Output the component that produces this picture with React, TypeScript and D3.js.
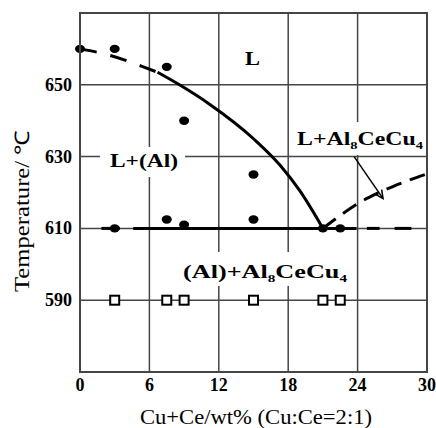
import React from "react";
import * as d3 from "d3";

const xTicks = [0, 6, 12, 18, 24, 30];
const yTicks = [590, 610, 630, 650];
const gridX = [6, 12, 18, 24];
const gridY = [590, 610, 630, 650];

const dotX = [0, 3, 7.5, 9, 15, 7.5, 9, 15, 3, 21, 22.5];
const dotT = [660, 660, 655, 640, 625, 612.5, 611, 612.5, 610, 610, 610];
const squareX = [3, 7.5, 9, 15, 21, 22.5];
const squareT = [590, 590, 590, 590, 590, 590];

const liquidusDashed: [number, number][] = [[0, 660], [2.7, 658.1], [5.3, 655.2], [6.7, 653.5]];
const liquidusSolid: [number, number][] = [[6.7, 653.5], [8.6, 650], [11.2, 644.6], [15.1, 634.7], [17.3, 627.6], [19, 620.5], [21, 610]];
const solvusDashed: [number, number][] = [[21, 610], [22.5, 613.6], [24, 616.9], [25.6, 619.6], [27, 621.6], [30, 625.2]];
const eutecticSegments: [number, number][] = [[1.85, 3.45], [4.6, 23.9], [24.8, 25.9], [27.2, 28.65]];
const eutecticT = 610;
const arrowFrom: [number, number] = [23.7, 630];
const arrowTo: [number, number] = [26.2, 618.3];

const W = 436, H = 428;
const x = d3.scaleLinear().domain([0, 30]).range([80, 427]);
const y = d3.scaleLinear().domain([570, 670]).range([372, 13]);

const serif = "'Liberation Serif', 'Times New Roman', serif";
const grid = "#454545";

export default function App() {
  const line = d3.line<[number, number]>().x(d => x(d[0])).y(d => y(d[1])).curve(d3.curveMonotoneX);
  const ax = x(arrowFrom[0]), ay = y(arrowFrom[1]);
  const bx = x(arrowTo[0]), by = y(arrowTo[1]);
  const ang = Math.atan2(by - ay, bx - ax);
  const ah = 9, aw = 0.45;
  const p1 = [bx - ah * Math.cos(ang - aw), by - ah * Math.sin(ang - aw)];
  const p2 = [bx - ah * Math.cos(ang + aw), by - ah * Math.sin(ang + aw)];
  const sub = { fontSize: 11 };
  return (
    <svg width={W} height={H} style={{ position: "absolute", left: 0, top: 0, background: "#fff" }} fontFamily={serif}>
      <rect x={0} y={0} width={W} height={H} fill="#fff" />
      {gridX.map(v => (
        <line key={"gx" + v} x1={x(v)} x2={x(v)} y1={y(670)} y2={y(570)} stroke={grid} strokeWidth={1.5} />
      ))}
      {gridY.map(v => (
        <line key={"gy" + v} x1={x(0)} x2={x(30)} y1={y(v)} y2={y(v)} stroke={grid} strokeWidth={1.5} />
      ))}
      {/* label backgrounds */}
      <rect x={100} y={147} width={85} height={30} fill="#fff" />
      <rect x={292} y={122} width={134} height={33} fill="#fff" />
      <rect x={178} y={252} width={174} height={34} fill="#fff" />

      <path d={line(liquidusDashed) || ""} fill="none" stroke="#000" strokeWidth={3} strokeDasharray="17,14" />
      <path d={line(liquidusSolid) || ""} fill="none" stroke="#000" strokeWidth={3} />
      <path d={line(solvusDashed) || ""} fill="none" stroke="#000" strokeWidth={3} strokeDasharray="16,9" />
      {eutecticSegments.map((s, i) => (
        <line key={"e" + i} x1={x(s[0])} x2={x(s[1])} y1={y(eutecticT)} y2={y(eutecticT)} stroke="#000" strokeWidth={3} />
      ))}
      <line x1={ax} y1={ay} x2={bx} y2={by} stroke="#000" strokeWidth={1.5} />
      <path d={`M${p1[0]},${p1[1]} L${bx},${by} L${p2[0]},${p2[1]}`} fill="none" stroke="#000" strokeWidth={1.5} />

      {dotX.map((v, i) => (
        <ellipse key={"d" + i} cx={x(v)} cy={y(dotT[i])} rx={5} ry={4.2} fill="#000" />
      ))}
      {squareX.map((v, i) => (
        <rect key={"s" + i} x={x(v) - 4.5} y={y(squareT[i]) - 4.5} width={9} height={9} fill="#fff" stroke="#000" strokeWidth={2} />
      ))}

      <rect x={x(0)} y={y(670)} width={x(30) - x(0)} height={y(570) - y(670)} fill="none" stroke={grid} strokeWidth={2} />

      {yTicks.map(v => (
        <text key={"yt" + v} x={72} y={y(v) + 6} textAnchor="end" fontSize={18} fontWeight="bold">{v}</text>
      ))}
      {xTicks.map(v => (
        <text key={"xt" + v} x={x(v)} y={391} textAnchor="middle" fontSize={18} fontWeight="bold">{v}</text>
      ))}

      <text x={140} y={424} fontSize={20} textLength={232} lengthAdjust="spacingAndGlyphs">Cu+Ce/wt% (Cu:Ce=2:1)</text>
      <text transform="translate(29,292) rotate(-90)" fontSize={20} textLength={162} lengthAdjust="spacingAndGlyphs">Temperature/ ℃</text>

      <text x={245} y={65} fontSize={18} fontWeight="bold" textLength={15} lengthAdjust="spacingAndGlyphs">L</text>
      <text x={110} y={167} fontSize={18} fontWeight="bold" textLength={68} lengthAdjust="spacingAndGlyphs">L+(Al)</text>
      <text x={297} y={145} fontSize={18} fontWeight="bold" textLength={126} lengthAdjust="spacingAndGlyphs">
        L+Al<tspan dy={4} style={sub}>8</tspan><tspan dy={-4}>CeCu</tspan><tspan dy={4} style={sub}>4</tspan>
      </text>
      <text x={183} y={278} fontSize={19} fontWeight="bold" textLength={164} lengthAdjust="spacingAndGlyphs">
        (Al)+Al<tspan dy={4} style={sub}>8</tspan><tspan dy={-4}>CeCu</tspan><tspan dy={4} style={sub}>4</tspan>
      </text>
    </svg>
  );
}
